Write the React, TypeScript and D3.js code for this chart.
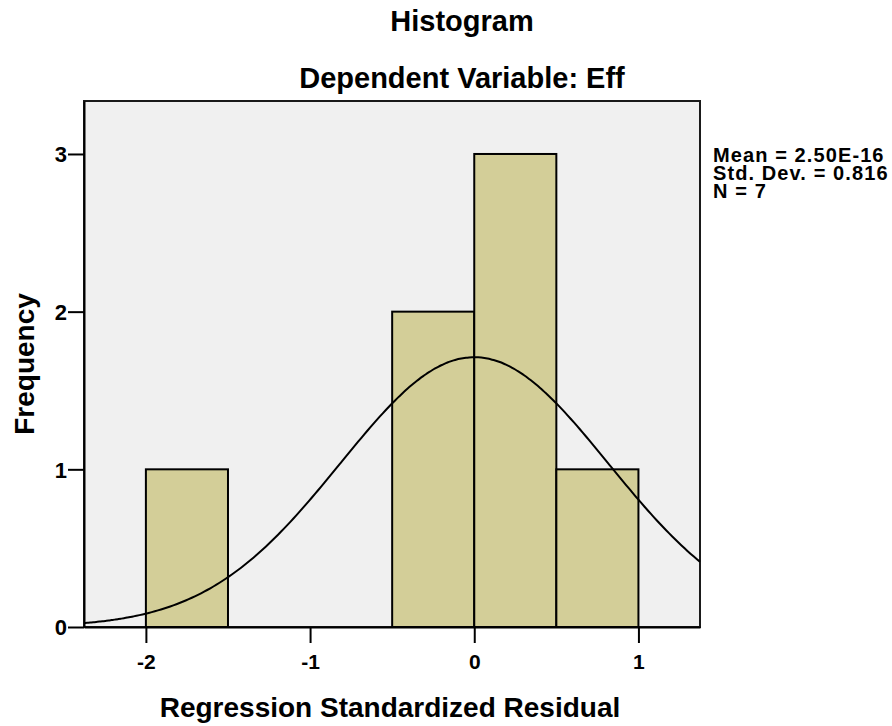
import React, { useEffect, useRef } from "react";
import * as d3 from "d3";

// histogram bins (lower edge) and counts
const binStarts = [-2, -0.5, 0, 0.5];
const binWidth = 0.5;
const frequencies = [1, 2, 3, 1];

const xTicks = [-2, -1, 0, 1];
const yTicks = [0, 1, 2, 3];

const mean = 2.5e-16;
const stdDev = 0.816;
const n = 7;
const statLines = ["Mean = 2.50E-16", "Std. Dev. = 0.816", "N = 7"];

const FONT = "'Liberation Sans', Arial, sans-serif";

const App = () => {
  const svgRef = useRef<SVGSVGElement>(null);

  useEffect(() => {
    const width = 892,
      height = 726;
    const margin = { top: 101, right: 192, bottom: 99, left: 84 };

    d3.select(svgRef.current).selectAll("*").remove();

    const svg = d3
      .select(svgRef.current)
      .attr("width", width)
      .attr("height", height);

    const x = d3
      .scaleLinear()
      .domain([-2.377, 1.375])
      .range([margin.left, width - margin.right]);

    const y = d3
      .scaleLinear()
      .domain([0, 3.336])
      .range([height - margin.bottom, margin.top]);

    // plot background
    svg
      .append("rect")
      .attr("x", x.range()[0])
      .attr("y", y.range()[1])
      .attr("width", x.range()[1] - x.range()[0])
      .attr("height", y.range()[0] - y.range()[1])
      .attr("fill", "#f0f0f0")
      .attr("stroke", "#1a1a1a")
      .attr("stroke-width", 2);

    // bars
    svg
      .append("g")
      .selectAll("rect")
      .data(binStarts)
      .join("rect")
      .attr("x", (d) => x(d))
      .attr("y", (d, i) => y(frequencies[i]))
      .attr("width", (d) => x(d + binWidth) - x(d))
      .attr("height", (d, i) => y(0) - y(frequencies[i]))
      .attr("fill", "#d3ce98")
      .attr("stroke", "#000")
      .attr("stroke-width", 2);

    // normal curve
    const scale = n * binWidth;
    const pdf = (v: number) =>
      (scale / (stdDev * Math.sqrt(2 * Math.PI))) *
      Math.exp(-0.5 * ((v - mean) / stdDev) ** 2);
    const [x0, x1] = x.domain();
    const pts = d3.range(0, 201).map((i) => x0 + ((x1 - x0) * i) / 200);
    const line = d3
      .line<number>()
      .x((d) => x(d))
      .y((d) => y(pdf(d)))
      .curve(d3.curveMonotoneX);
    svg
      .append("path")
      .datum(pts)
      .attr("fill", "none")
      .attr("stroke", "#000")
      .attr("stroke-width", 2)
      .attr("d", line);

    // axes
    const xAxis = svg
      .append("g")
      .attr("transform", `translate(0,${y(0)})`)
      .call(
        d3
          .axisBottom(x)
          .tickValues(xTicks)
          .tickFormat((d) => String(d))
          .tickSize(16)
          .tickSizeOuter(0)
      );
    const yAxis = svg
      .append("g")
      .attr("transform", `translate(${x.range()[0]},0)`)
      .call(
        d3
          .axisLeft(y)
          .tickValues(yTicks)
          .tickFormat((d) => String(d))
          .tickSize(16)
          .tickSizeOuter(0)
      );
    [xAxis, yAxis].forEach((g) => {
      g.select(".domain").attr("stroke", "#000").attr("stroke-width", 2);
      g.selectAll(".tick line").attr("stroke", "#000").attr("stroke-width", 2);
      g.selectAll(".tick text")
        .attr("font-family", FONT)
        .attr("font-weight", "bold")
        .attr("fill", "#000");
    });
    xAxis
      .selectAll(".tick text")
      .attr("font-size", 21)
      .attr("y", 42)
      .attr("dy", 0);
    yAxis
      .selectAll(".tick text")
      .attr("font-size", 22)
      .attr("x", -17)
      .attr("dy", "0.36em");

    const text = (
      tx: number,
      ty: number,
      s: string,
      size: number,
      anchor = "middle"
    ) =>
      svg
        .append("text")
        .attr("x", tx)
        .attr("y", ty)
        .attr("text-anchor", anchor)
        .attr("font-family", FONT)
        .attr("font-weight", "bold")
        .attr("font-size", size)
        .attr("fill", "#000")
        .text(s);

    // titles
    text(462, 31, "Histogram", 29);
    text(462, 88, "Dependent Variable: Eff", 29);

    // axis labels
    text(390, 717, "Regression Standardized Residual", 28);
    text(0, 0, "Frequency", 28).attr(
      "transform",
      `translate(34,${(y.range()[0] + y.range()[1]) / 2}) rotate(-90)`
    );

    // summary stats
    statLines.forEach((s, i) =>
      text(713, 162 + i * 18, s, 20, "start").attr("letter-spacing", 1.1)
    );
  }, []);

  return (
    <svg
      ref={svgRef}
      style={{ position: "absolute", left: 0, top: 0, display: "block" }}
    ></svg>
  );
};

export default App;
